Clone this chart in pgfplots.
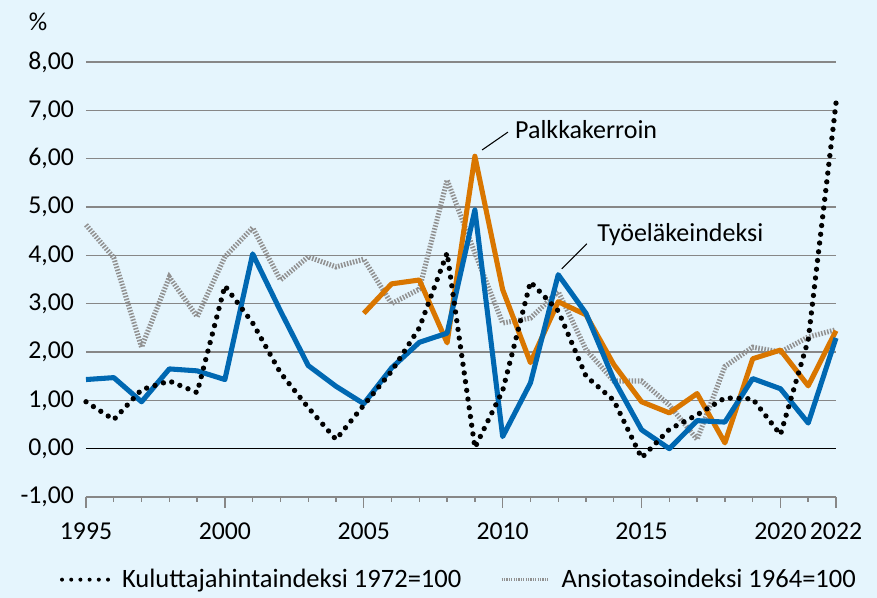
\documentclass[border=0pt]{standalone}
\usepackage{fontspec}
\setmainfont{Carlito}
\usepackage{pgfplots}
\pgfplotsset{compat=1.18}
\definecolor{bgblue}{RGB}{229,245,253}
\definecolor{etkblue}{RGB}{0,104,178}
\definecolor{etkorange}{RGB}{217,118,0}
\definecolor{gridgray}{RGB}{135,135,135}
\definecolor{dotgray}{RGB}{145,145,145}
\newcommand{\fs}{\fontsize{19.3}{23}\selectfont}
\newcommand{\fa}{\fontsize{19.5}{23}\selectfont}
\newcommand{\fl}{\fontsize{19.9}{24}\selectfont}
\begin{document}
\begin{tikzpicture}
\fill[bgblue] (-64.5pt,-75.75pt) rectangle (593.25pt,372.75pt);
\begin{axis}[
 name=ax, at={(0,0)}, anchor=south west,
 scale only axis, width=562.5pt, height=326.25pt,
 xmin=1995, xmax=2022, ymin=-1, ymax=8,
 axis lines*=left,
 y axis line style={draw=none},
 x axis line style={gridgray, line width=1pt},
 ytick={-1,0,...,8},
 ymajorgrids, grid style={gridgray, line width=1pt},
 xtick={1995,2000,2005,2010,2015,2020,2022},
 minor xtick={1996,...,2021},
 tick align=outside,
 major tick length=8pt, minor tick length=3.5pt,
 xtick style={gridgray, line width=1pt},
 every minor tick/.append style={gridgray, line width=1pt},
 ytick style={draw=none},
 /pgf/number format/assume math mode=true,
 ticklabel style={font=\fs},
 xticklabel style={/pgf/number format/1000 sep={}, yshift=-8pt},
 yticklabel style={/pgf/number format/fixed, /pgf/number format/fixed zerofill,
   /pgf/number format/precision=2, /pgf/number format/use comma, xshift=2.5pt},
 legend style={at={(-0.035,-0.19)}, anchor=west, draw=none, fill=none,
   font=\fl, legend columns=2, inner xsep=0pt,
   /tikz/every odd column/.append style={column sep=7pt},
   /tikz/every even column/.append style={column sep=27pt}},
 legend cell align=left,
 clip=false,
]
\addplot[black, line width=1pt, forget plot] coordinates {(1995,0) (2022,0)};
% Ansiotasoindeksi
\addplot[dotgray, line width=3.8pt, dash pattern=on 1.15pt off 1.15pt, forget plot] coordinates {
(1995,4.63) (1996,3.95) (1997,2.10) (1998,3.55) (1999,2.73) (2000,3.97)
(2001,4.57) (2002,3.49) (2003,3.97) (2004,3.76) (2005,3.92) (2006,3.00)
(2007,3.30) (2008,5.56) (2009,4.05) (2010,2.60) (2011,2.70) (2012,3.25)
(2013,2.05) (2014,1.40) (2015,1.40) (2016,0.90) (2017,0.19) (2018,1.70)
(2019,2.10) (2020,2.00) (2021,2.31) (2022,2.46)};
% Palkkakerroin
\addplot[etkorange, line width=3.8pt, line join=round, forget plot] coordinates {
(2005,2.80) (2006,3.41) (2007,3.49) (2008,2.19) (2009,6.05) (2010,3.29)
(2011,1.78) (2012,3.04) (2013,2.77) (2014,1.74) (2015,0.97) (2016,0.74)
(2017,1.14) (2018,0.12) (2019,1.86) (2020,2.04) (2021,1.30) (2022,2.44)};
% Tyoelakeindeksi
\addplot[etkblue, line width=3.8pt, line join=round, forget plot] coordinates {
(1995,1.43) (1996,1.47) (1997,0.97) (1998,1.65) (1999,1.61) (2000,1.43)
(2001,4.03) (2002,2.85) (2003,1.72) (2004,1.29) (2005,0.93) (2006,1.67)
(2007,2.20) (2008,2.39) (2009,4.94) (2010,0.25) (2011,1.36) (2012,3.60)
(2013,2.80) (2014,1.43) (2015,0.39) (2016,0.00) (2017,0.58) (2018,0.55)
(2019,1.45) (2020,1.24) (2021,0.53) (2022,2.29)};
% Kuluttajahintaindeksi
\addplot[black, line width=4pt, line cap=round, dash pattern=on 0pt off 6.6pt, forget plot] coordinates {
(1995,0.97) (1996,0.60) (1997,1.22) (1998,1.40) (1999,1.16) (2000,3.37)
(2001,2.60) (2002,1.57) (2003,0.85) (2004,0.19) (2005,0.90) (2006,1.60)
(2007,2.50) (2008,4.05) (2009,0.02) (2010,1.20) (2011,3.45) (2012,2.85)
(2013,1.50) (2014,1.00) (2015,-0.19) (2016,0.40) (2017,0.70) (2018,1.05)
(2019,1.03) (2020,0.29) (2021,2.25) (2022,7.15)};
\addlegendimage{legend image code/.code={\draw[black, line width=3pt, line cap=round, dash pattern=on 0pt off 6.9pt] (0pt,0pt) -- (34.5pt,0pt);}}
\addlegendentry{Kuluttajahintaindeksi 1972=100}
\addlegendimage{legend image code/.code={\draw[dotgray, line width=2.2pt, dash pattern=on 0.9pt off 0.9pt] (0pt,0pt) -- (35pt,0pt);}}
\addlegendentry{Ansiotasoindeksi 1964=100}
\draw[black, line width=0.8pt] (axis cs:2009.26,6.18) -- (axis cs:2010.19,6.55);
\node[anchor=west, inner sep=0pt, font=\fa] at (axis cs:2010.44,6.61) {Palkkakerroin};
\draw[black, line width=0.8pt] (axis cs:2012.13,3.72) -- (axis cs:2013.03,4.24);
\node[anchor=west, inner sep=0pt, font=\fa] at (axis cs:2013.40,4.42) {Työeläkeindeksi};
\node[anchor=center, inner sep=0pt, font=\fs] at (axis description cs:-0.064,1.092) {\%};
\end{axis}
\pgfresetboundingbox
\useasboundingbox (-64.5pt,-75.75pt) rectangle (593.25pt,372.75pt);
\end{tikzpicture}
\end{document}
